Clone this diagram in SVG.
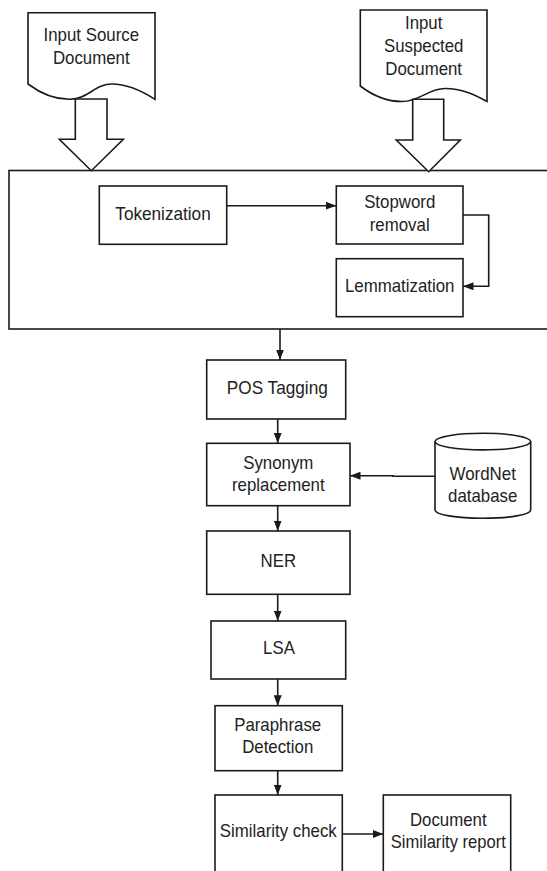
<svg xmlns="http://www.w3.org/2000/svg" width="547" height="871" viewBox="0 0 547 871">
<defs>
<marker id="ah" markerUnits="userSpaceOnUse" markerWidth="11" markerHeight="8" refX="10.5" refY="4" orient="auto"><path d="M0,0 L10.5,4 L0,8 Z" fill="#1a1a1a"/></marker>
<style>
.b{fill:#fff;stroke:#1a1a1a;stroke-width:1.6}
.c{fill:none;stroke:#1a1a1a;stroke-width:1.6}
.t{font-family:"Liberation Sans",Arial,sans-serif;font-size:18.5px;fill:#222;text-anchor:middle}
</style>
</defs>
<rect width="547" height="871" fill="#fff"/>
<g id="container"><rect class="b" x="9" y="170.5" width="545" height="158.5"/></g>
<g id="doc-source">
<path class="b" d="M28,12.7 H155 V99.3 C142,91 128,84 112,84 C95,84 88,99 70,99.3 C55,99.5 40,93 28,84 Z"/>
<text class="t" x="91.3" y="41.3" textLength="95.5" lengthAdjust="spacingAndGlyphs">Input Source</text>
<text class="t" x="91.3" y="64" textLength="76.7" lengthAdjust="spacingAndGlyphs">Document</text>
</g>
<g id="doc-suspected">
<path class="b" d="M360.3,10 H487 V101.5 C475,95 462,88.5 445,88.5 C428,88.5 420,101.5 402,101.5 C385,101.5 372,95 360.3,86 Z"/>
<text class="t" x="423.7" y="29" textLength="37.4" lengthAdjust="spacingAndGlyphs">Input</text>
<text class="t" x="423.7" y="52.3" textLength="79.5" lengthAdjust="spacingAndGlyphs">Suspected</text>
<text class="t" x="423.7" y="75" textLength="76.7" lengthAdjust="spacingAndGlyphs">Document</text>
</g>
<g id="arrow-source"><path class="b" d="M75.3,99 H107 V139.3 H123.3 L91.3,170.7 L59.3,139.3 H75.3 Z"/></g>
<g id="arrow-suspected"><path class="b" d="M412.7,99.3 H443.7 V140 H460.3 L428.7,171.7 L396.3,140 H412.7 Z"/></g>
<g id="tokenization"><rect class="b" x="99.3" y="186" width="127.4" height="58.3"/>
<text class="t" x="163" y="220" textLength="95.4" lengthAdjust="spacingAndGlyphs">Tokenization</text></g>
<g id="stopword"><rect class="b" x="336.3" y="186" width="126.7" height="58"/>
<text class="t" x="399.7" y="208.3" textLength="71.1" lengthAdjust="spacingAndGlyphs">Stopword</text>
<text class="t" x="399.7" y="231" textLength="59.9" lengthAdjust="spacingAndGlyphs">removal</text></g>
<g id="lemmatization"><rect class="b" x="336.3" y="258.7" width="126.7" height="58"/>
<text class="t" x="399.7" y="292.3" textLength="109.5" lengthAdjust="spacingAndGlyphs">Lemmatization</text></g>
<g id="pos"><rect class="b" x="206.7" y="360" width="139" height="59"/>
<text class="t" x="277.3" y="394" textLength="101" lengthAdjust="spacingAndGlyphs">POS Tagging</text></g>
<g id="synonym"><rect class="b" x="206.7" y="443.3" width="143.3" height="62.4"/>
<text class="t" x="278.3" y="469" textLength="70.2" lengthAdjust="spacingAndGlyphs">Synonym</text>
<text class="t" x="278.3" y="490.7" textLength="92.6" lengthAdjust="spacingAndGlyphs">replacement</text></g>
<g id="wordnet">
<path class="b" d="M435,441.6 A47.85,8.3 0 0 1 530.7,441.6 V510 A47.85,8.3 0 0 1 435,510 Z"/>
<path class="c" d="M435,441.6 A47.85,8.3 0 0 0 530.7,441.6"/>
<text class="t" x="482.7" y="480" textLength="66.4" lengthAdjust="spacingAndGlyphs">WordNet</text>
<text class="t" x="482.7" y="501.7" textLength="69.3" lengthAdjust="spacingAndGlyphs">database</text></g>
<g id="ner"><rect class="b" x="206.7" y="531" width="143.3" height="63.3"/>
<text class="t" x="278.3" y="566.7" textLength="35.5" lengthAdjust="spacingAndGlyphs">NER</text></g>
<g id="lsa"><rect class="b" x="211" y="621" width="134.7" height="58"/>
<text class="t" x="279" y="654.3" textLength="31.8" lengthAdjust="spacingAndGlyphs">LSA</text></g>
<g id="paraphrase"><rect class="b" x="215" y="705.7" width="127.3" height="65"/>
<text class="t" x="277.7" y="730.7" textLength="87" lengthAdjust="spacingAndGlyphs">Paraphrase</text>
<text class="t" x="277.7" y="753.3" textLength="71.1" lengthAdjust="spacingAndGlyphs">Detection</text></g>
<g id="similarity"><rect class="b" x="215" y="795" width="127.3" height="90"/>
<text class="t" x="278.3" y="837.3" textLength="116.9" lengthAdjust="spacingAndGlyphs">Similarity check</text></g>
<g id="report"><rect class="b" x="383.3" y="795" width="127.4" height="90"/>
<text class="t" x="448.3" y="825.7" textLength="76.7" lengthAdjust="spacingAndGlyphs">Document</text>
<text class="t" x="448.3" y="848.3" textLength="115" lengthAdjust="spacingAndGlyphs">Similarity report</text></g>
<g id="connectors">
<line class="c" x1="226.7" y1="205.7" x2="336.3" y2="205.7" marker-end="url(#ah)"/>
<polyline class="c" points="463,215 488.7,215 488.7,286.3 463,286.3" marker-end="url(#ah)"/>
<line class="c" x1="280" y1="329" x2="280" y2="360" marker-end="url(#ah)"/>
<line class="c" x1="277.7" y1="419" x2="277.7" y2="443.3" marker-end="url(#ah)"/>
<polyline class="c" points="435,476.3 393,476.3 393,475.7 350,475.7" marker-end="url(#ah)"/>
<line class="c" x1="277.7" y1="505.7" x2="277.7" y2="531" marker-end="url(#ah)"/>
<line class="c" x1="277.7" y1="594.3" x2="277.7" y2="621" marker-end="url(#ah)"/>
<line class="c" x1="277.7" y1="679" x2="277.7" y2="705.7" marker-end="url(#ah)"/>
<line class="c" x1="277.7" y1="770.7" x2="277.7" y2="795" marker-end="url(#ah)"/>
<line class="c" x1="342.3" y1="834" x2="383.3" y2="834" marker-end="url(#ah)"/>
</g>
</svg>
